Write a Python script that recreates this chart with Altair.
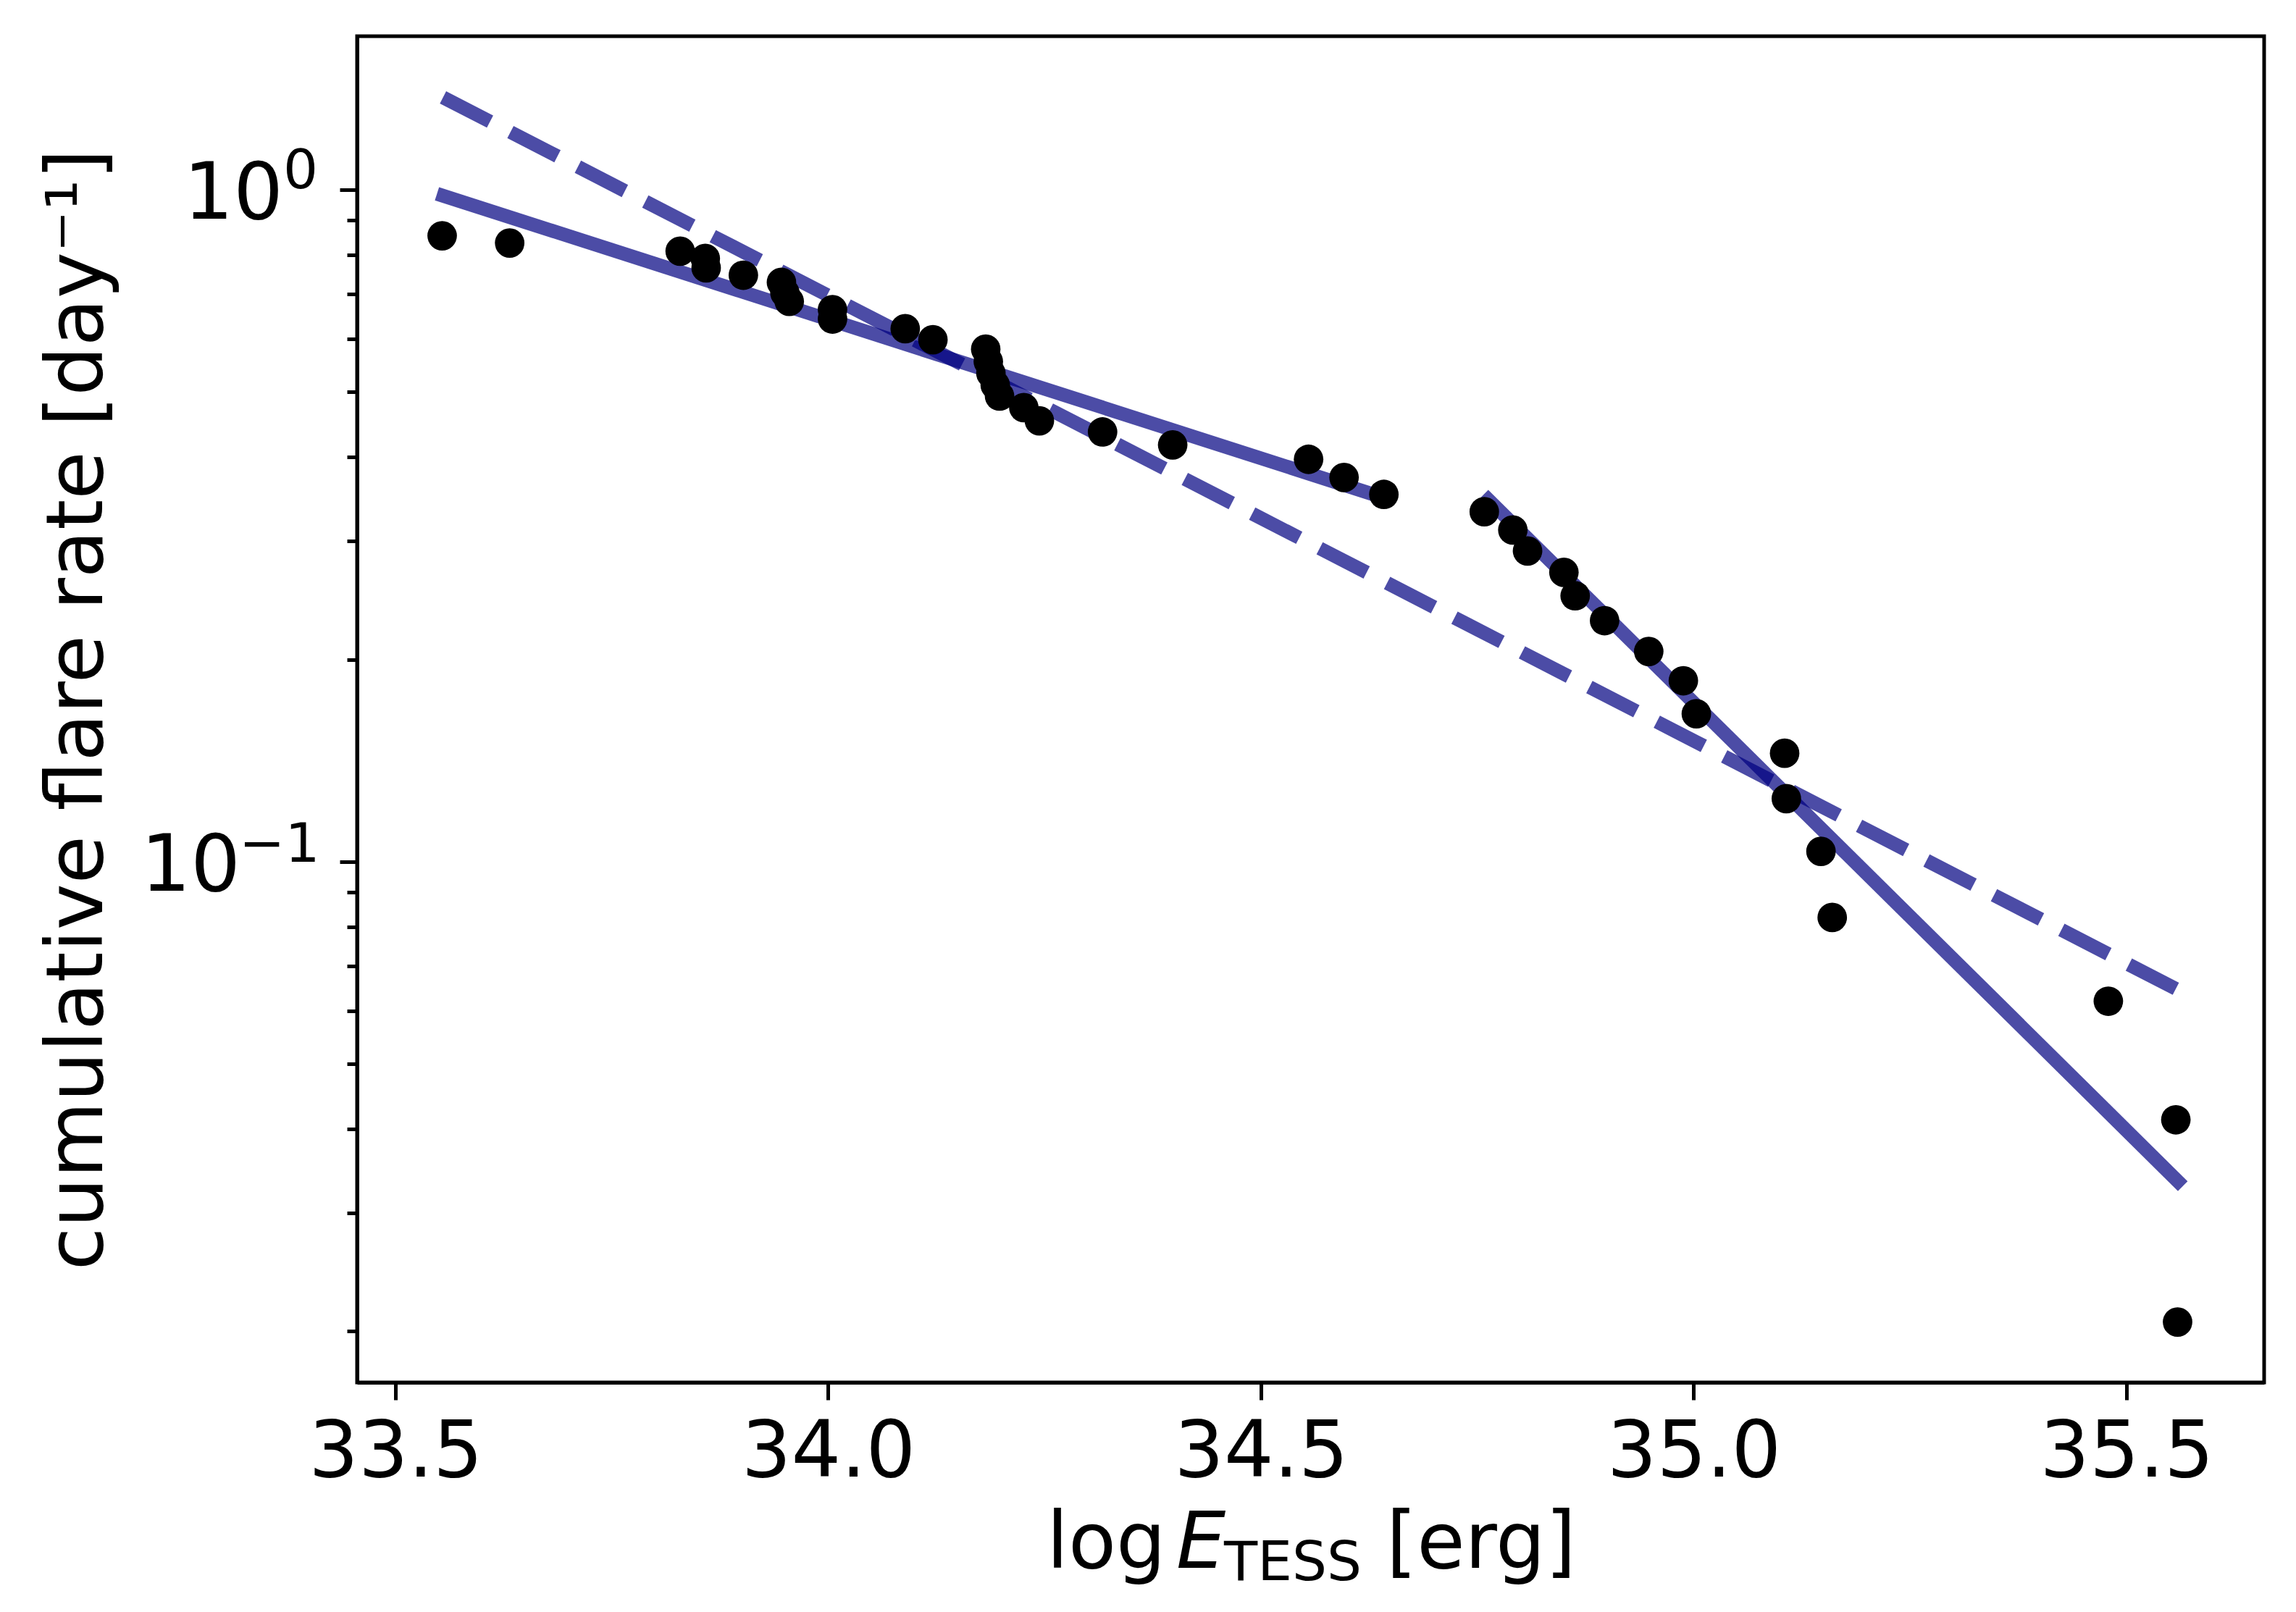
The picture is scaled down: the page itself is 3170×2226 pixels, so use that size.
import altair as alt
import pandas as pd

# ---- data ----
log_e = [33.554, 33.632, 33.829, 33.858, 33.859, 33.902, 33.946, 33.950, 33.955,
         34.005, 34.005, 34.089, 34.121, 34.182, 34.185, 34.188, 34.193, 34.198,
         34.226, 34.244, 34.317, 34.398, 34.555, 34.596, 34.642, 34.758, 34.791,
         34.808, 34.850, 34.863, 34.897, 34.948, 34.988, 35.003, 35.105, 35.107,
         35.147, 35.160, 35.479, 35.557, 35.559]
rate = [0.854, 0.833, 0.810, 0.790, 0.765, 0.746, 0.728, 0.702, 0.682,
        0.663, 0.642, 0.621, 0.598, 0.579, 0.555, 0.533, 0.512, 0.493,
        0.474, 0.453, 0.436, 0.417, 0.397, 0.373, 0.352, 0.3317, 0.3116,
        0.290, 0.2695, 0.2487, 0.2284, 0.2055, 0.1859, 0.166, 0.145, 0.1241,
        0.1036, 0.0826, 0.0620, 0.0413, 0.02065]

# broken power-law fit (solid) : two segments
solid_x = [33.548, 34.642, 34.757, 35.565]
solid_y = [0.986, 0.348, 0.3515, 0.0329]
solid_seg = ["low", "low", "high", "high"]
# single power-law fit (dashed)
dash_x = [33.555, 35.557]
dash_y = [1.372, 0.0647]

x_ticks = [33.5, 34.0, 34.5, 35.0, 35.5]
y_major = [1.0, 0.1]
y_major_exp = ["0", "\u22121"]
y_minor = [0.02, 0.03, 0.04, 0.05, 0.06, 0.07, 0.08, 0.09,
           0.2, 0.3, 0.4, 0.5, 0.6, 0.7, 0.8, 0.9]

x_title_parts = ["log", "E", "TESS", "[erg]"]
y_title = "cumulative flare rate [day\u207b\u00b9]"

X_DOMAIN = [33.4557, 35.659]
Y_DOMAIN = [0.01679, 1.692]

# ---- layout ----
W, H = 2633, 1859
FS = 108
FS_SMALL = 75.6
FONT = "DejaVu Sans"
LINE_COLOR = "#000080"

xscale = alt.Scale(domain=X_DOMAIN, nice=False, zero=False)
yscale = alt.Scale(type="log", domain=Y_DOMAIN, nice=False)

df_pts = pd.DataFrame({"logE": log_e, "rate": rate})
df_solid = pd.DataFrame({"logE": solid_x, "rate": solid_y, "seg": solid_seg})
df_dash = pd.DataFrame({"logE": dash_x, "rate": dash_y})

major_test = "datum.value == 1 || datum.value == 0.1"

x_axis = alt.Axis(
    values=x_ticks, format=".1f", title=None, labelFontSize=FS, labelFont=FONT,
    labelColor="black", tickSize=24, labelPadding=20, grid=False,
    labelLimit=1000, labelOverlap=False)
y_axis = alt.Axis(
    values=y_major + y_minor, labels=False, grid=False,
    tickSize={"condition": {"test": major_test, "value": 24}, "value": 14},
    title=y_title, titleFontSize=FS, titleFont=FONT, titleFontWeight="normal",
    titleColor="black", titleAngle=270, titleAlign="center",
    titleBaseline="alphabetic", titleX=-353, titleY=H / 2, titleLimit=3000)


def xenc(field):
    return alt.X(field, scale=xscale, axis=x_axis)


def yenc(field):
    return alt.Y(field, scale=yscale, axis=y_axis)


solid = alt.Chart(df_solid).mark_line(
    color=LINE_COLOR, opacity=0.7, strokeWidth=19, strokeCap="butt"
).encode(x=xenc("logE:Q"), y=yenc("rate:Q"), detail="seg:N")

dashed = alt.Chart(df_dash).mark_line(
    color=LINE_COLOR, opacity=0.7, strokeWidth=19, strokeCap="butt",
    strokeDash=[73, 31.7]
).encode(x=xenc("logE:Q"), y=yenc("rate:Q"))

points = alt.Chart(df_pts).mark_circle(
    size=1662, color="black", opacity=1
).encode(x=xenc("logE:Q"), y=yenc("rate:Q"))

layers = [solid, dashed, points]

# y tick labels 10^0 and 10^-1 drawn as text (base + superscript)
base_right = [-102, -161]
exp_right = [-54, -51.5]
exp_dy = [-2, 0]
for v, e, br, er, edy in zip(y_major, y_major_exp, base_right, exp_right, exp_dy):
    d = pd.DataFrame({"rate": [v], "base": ["10"], "exp": [e]})
    layers.append(alt.Chart(d).mark_text(
        align="right", baseline="alphabetic", dy=40, fontSize=FS, font=FONT,
        color="black").encode(x=alt.value(br), y=yenc("rate:Q"), text="base:N"))
    layers.append(alt.Chart(d).mark_text(
        align="right", baseline="alphabetic", dy=edy, fontSize=FS_SMALL, font=FONT,
        color="black").encode(x=alt.value(er), y=yenc("rate:Q"), text="exp:N"))

# x-axis title: log E_TESS [erg]
title_specs = [
    (x_title_parts[0], 952, H + 256, FS, "normal"),
    (x_title_parts[1], 1131, H + 256, FS, "italic"),
    (x_title_parts[2], 1197, H + 273, FS_SMALL, "normal"),
    (x_title_parts[3], 1421, H + 256, FS, "normal"),
]
for txt, px, py, fs, style in title_specs:
    d = pd.DataFrame({"t": [txt]})
    layers.append(alt.Chart(d).mark_text(
        align="left", baseline="alphabetic", fontSize=fs, font=FONT,
        fontStyle=style, color="black").encode(
        x=alt.value(px), y=alt.value(py), text="t:N"))

chart = alt.layer(*layers).properties(
    width=W, height=H,
    padding={"left": 485, "top": 42, "right": 20, "bottom": 290},
    autosize=alt.AutoSizeParams(type="none"),
).configure_view(
    stroke="black", strokeWidth=5
).configure_axis(
    domainColor="black", domainWidth=5, tickColor="black", tickWidth=5,
    labelColor="black", grid=False, labelFont=FONT, titleFont=FONT
)

chart.save("out.html", embed_options={"renderer": "svg", "actions": False})
